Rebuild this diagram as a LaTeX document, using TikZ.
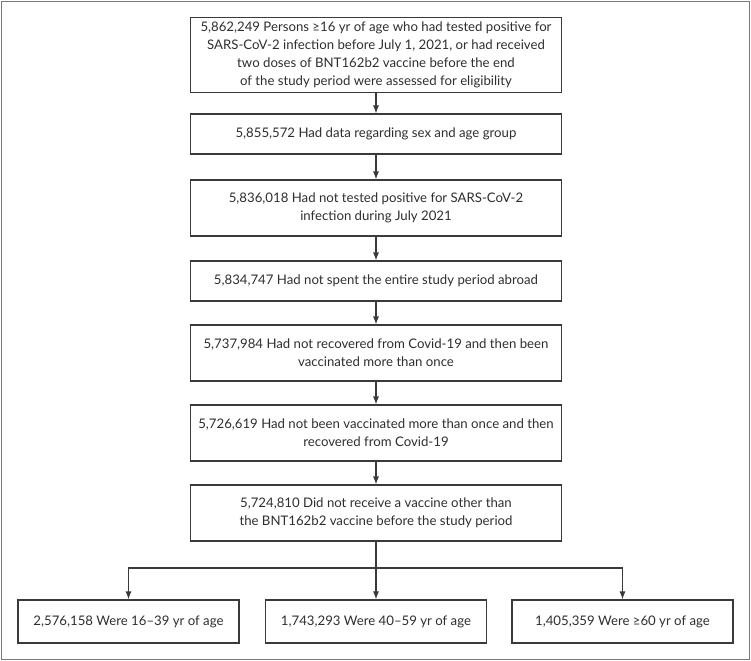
\documentclass[tikz,border=0pt]{standalone}
\usepackage{fontspec}
\setmainfont{Lato}
\usetikzlibrary{arrows.meta,positioning}
\definecolor{ink}{HTML}{2E2E2E}
\definecolor{rule}{HTML}{3A3A3A}
\definecolor{frame}{HTML}{7A7A7A}

\begin{document}
\begin{tikzpicture}[x=0.75pt,y=-0.75pt,
  box/.style={draw=rule,line width=0.8pt,text=ink,align=center,inner sep=0pt,
    minimum width=278.25pt,font=\fontsize{9.9}{13.5}\selectfont},
  agebox/.style={box,minimum width=165.75pt,minimum height=32.25pt},
  flow/.style={-{Latex[length=6pt,width=4.5pt]},rule,line width=0.8pt}]
\useasboundingbox (0,0) rectangle (751,661);
\draw[frame,line width=1.2pt] (1.5,1.5) rectangle (749.5,659.5);
\node[box,minimum height=56pt] (assessed) at (376,55) {5,862,249 Persons ≥16 yr of age who had tested positive for\\SARS-CoV-2 infection before July 1, 2021, or had received\\two doses of BNT162b2 vaccine before the end\\of the study period were assessed for eligibility};
\node[box,minimum height=30pt] (sexage) at (376,134) {5,855,572 Had data regarding sex and age group};
\node[box,minimum height=42pt] (notpos) at (376,208) {5,836,018 Had not tested positive for SARS-CoV-2\\infection during July 2021};
\node[box,minimum height=30pt] (abroad) at (376,281) {5,834,747 Had not spent the entire study period abroad};
\node[box,minimum height=42pt] (recvac) at (376,353) {5,737,984 Had not recovered from Covid-19 and then been\\vaccinated more than once};
\node[box,minimum height=42pt] (vacrec) at (376,433) {5,726,619 Had not been vaccinated more than once and then\\recovered from Covid-19};
\node[box,minimum height=42pt] (bnt) at (376,513) {5,724,810 Did not receive a vaccine other than\\the BNT162b2 vaccine before the study period};
\node[agebox] (young) at (128.5,621.5) {2,576,158 Were 16–39 yr of age};
\node[agebox] (middle) at (376,621.5) {1,743,293 Were 40–59 yr of age};
\node[agebox] (old) at (622.5,621.5) {1,405,359 Were ≥60 yr of age};
\coordinate (fork) at (376,568);
\draw[flow] (assessed) -- (sexage);
\draw[flow] (sexage) -- (notpos);
\draw[flow] (notpos) -- (abroad);
\draw[flow] (abroad) -- (recvac);
\draw[flow] (recvac) -- (vacrec);
\draw[flow] (vacrec) -- (bnt);
\draw[flow] (bnt) -- (middle);
\draw[flow] (fork) -| (young);
\draw[flow] (fork) -| (old);
\end{tikzpicture}
\end{document}
